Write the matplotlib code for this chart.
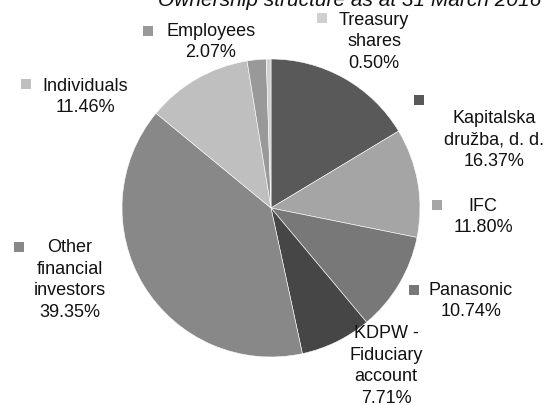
"""Ownership structure pie chart with boxed-marker labels."""

import matplotlib

matplotlib.use("Agg")
import matplotlib.pyplot as plt

plt.rcParams["font.family"] = ["Liberation Sans", "DejaVu Sans"]

TITLE = "Ownership structure as at 31 March 2016"

labels = [
    "Kapitalska\ndružba, d. d.",
    "IFC",
    "Panasonic",
    "KDPW -\nFiduciary\naccount",
    "Other\nfinancial\ninvestors",
    "Individuals",
    "Employees",
    "Treasury\nshares",
]
shares = [16.37, 11.80, 10.74, 7.71, 39.35, 11.46, 2.07, 0.50]
colors = ["#595959", "#a5a5a5", "#787878", "#464646",
          "#888888", "#bfbfbf", "#999999", "#d0d0d0"]

# label layout in pixels: text block centre, marker centre
text_pos = [(494, 140), (483, 217), (471, 301), (386, 366),
            (70, 280), (85, 97), (211, 42), (374, 42)]
marker_pos = [(419, 100), (437, 205), (414, 290), (330, 333),
              (19, 247), (26, 84), (148, 31), (322, 18)]

W, H = 552, 405
CX, CY, R = 271, 208, 149

fig = plt.figure(figsize=(W / 100, H / 100), dpi=100)
fig.patch.set_facecolor("white")

ax = fig.add_axes([(CX - R) / W, (H - CY - R) / H, 2 * R / W, 2 * R / H])
ax.pie(shares, colors=colors, startangle=90, counterclock=False,
       radius=1.0, wedgeprops=dict(edgecolor="white", linewidth=0.4))
ax.set_xlim(-1, 1)
ax.set_ylim(-1, 1)
ax.set_aspect("equal")
ax.axis("off")

over = fig.add_axes([0, 0, 1, 1], facecolor="none")
over.set_xlim(0, W)
over.set_ylim(H, 0)
over.axis("off")

for lab, val, col, (tx, ty), (mx, my) in zip(labels, shares, colors, text_pos, marker_pos):
    over.scatter([mx], [my], marker="s", s=52, color=col, linewidths=0, zorder=3)
    over.text(tx, ty, f"{lab}\n{val:.2f}%", ha="center", va="center",
              fontsize=13, linespacing=1.36, color="#111111", zorder=4)

over.text(350, 6, TITLE, ha="center", va="baseline", fontsize=15,
          style="italic", color="#111111")

fig.savefig("out.png", dpi=100)
